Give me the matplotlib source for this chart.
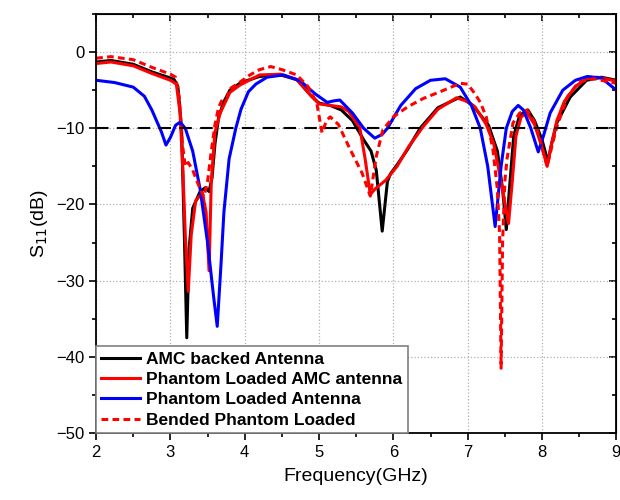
import matplotlib
matplotlib.use('Agg')
import matplotlib.pyplot as plt
from matplotlib.ticker import MultipleLocator

plt.rcParams['font.family'] = ['Liberation Sans', 'DejaVu Sans']

# === datos ===
f_amc = [2.0, 2.2, 2.5, 2.75, 3.0, 3.05, 3.1, 3.15, 3.19, 3.22, 3.25, 3.3, 3.4, 3.47,
         3.52, 3.56, 3.6, 3.65, 3.72, 3.8, 3.95, 4.2, 4.48, 4.7, 4.9, 5.0, 5.15, 5.3,
         5.45, 5.6, 5.7, 5.77, 5.85, 5.92, 5.96, 6.05, 6.19, 6.36, 6.6, 6.9, 7.07,
         7.28, 7.4, 7.47, 7.52, 7.57, 7.62, 7.7, 7.81, 7.9, 8.0, 8.08, 8.13, 8.2,
         8.38, 8.6, 8.8, 9.0]
s_amc = [-1.3, -1.1, -1.6, -2.6, -3.4, -3.6, -4.5, -10, -25, -37.5, -26, -20.5, -18.3, -17.8,
         -18.3, -16.5, -12, -8.5, -6.5, -5.0, -4.0, -3.2, -3.0, -3.6, -5.8, -6.7, -7.0, -7.6,
         -9.0, -11.5, -13, -15.5, -23.5, -17, -16, -14.8, -12.8, -10, -7.3, -5.9, -7.0,
         -9.6, -13, -18, -23.3, -17, -11, -8.3, -7.6, -9.0, -11.5, -14.4, -12, -9.3,
         -5.9, -3.7, -3.3, -3.7]

f_pl_amc = [2.0, 2.2, 2.5, 2.75, 3.0, 3.08, 3.13, 3.17, 3.2, 3.24, 3.28, 3.34, 3.43,
            3.48, 3.52, 3.55, 3.6, 3.67, 3.8, 3.94, 4.2, 4.48, 4.7, 4.9, 5.0, 5.15, 5.3,
            5.4, 5.55, 5.62, 5.69, 5.75, 5.9, 6.05, 6.2, 6.4, 6.6, 6.85, 7.0, 7.1,
            7.25, 7.35, 7.45, 7.55, 7.6, 7.65, 7.72, 7.8, 7.9, 8.0, 8.07, 8.12, 8.2,
            8.3, 8.45, 8.6, 8.75, 9.0]
s_pl_amc = [-1.5, -1.3, -1.8, -2.8, -3.7, -4.2, -8, -16, -24, -31.4, -24, -19.5, -18.5,
            -21, -28.7, -17, -10.5, -8.0, -5.3, -4.3, -3.0, -2.9, -3.6, -5.8, -6.8, -7.0, -7.2,
            -7.8, -10, -14, -18.7, -18, -16.8, -15, -12.5, -9.8, -7.5, -6.0, -6.5, -7.2,
            -9.5, -12, -17, -22.5, -17, -11, -8.5, -8.0, -9.5, -12.5, -15, -12.5, -9.0,
            -6.5, -4.5, -3.5, -3.3, -3.8]

f_pl_ant = [2.0, 2.25, 2.5, 2.65, 2.75, 2.88, 2.94, 3.0, 3.07, 3.13, 3.2, 3.3, 3.4, 3.5,
            3.58, 3.63, 3.68, 3.72, 3.79, 3.88, 3.95, 4.05, 4.15, 4.3, 4.52, 4.75, 4.95,
            5.11, 5.2, 5.28, 5.45, 5.6, 5.75, 5.85, 5.92, 6.1, 6.3, 6.5, 6.7, 6.9, 7.05,
            7.17, 7.27, 7.37, 7.45, 7.52, 7.6, 7.68, 7.75, 7.85, 7.95, 8.02, 8.11, 8.28,
            8.45, 8.61, 8.8, 9.0]
s_pl_ant = [-3.7, -4.0, -4.6, -5.8, -7.6, -10.5, -12.2, -11.2, -9.6, -9.2, -10, -13, -18, -25,
            -32, -36, -28, -21, -14, -10, -7.5, -5.2, -4.2, -3.3, -3.0, -3.8, -5.5,
            -6.6, -6.4, -6.3, -8.0, -10, -11.3, -10.8, -10, -7.0, -4.8, -3.7, -3.5, -4.6, -7.0,
            -10, -15, -22.9, -15, -10, -7.8, -7.0, -7.6, -10, -13.1, -11, -8.0, -5.0,
            -3.7, -3.2, -3.4, -5.0]

f_bend = [2.0, 2.2, 2.5, 2.75, 3.0, 3.07, 3.12, 3.16, 3.2, 3.24, 3.3, 3.38, 3.45, 3.5,
          3.55, 3.6, 3.65, 3.7, 3.76, 3.8, 3.9, 4.07, 4.2, 4.35, 4.5, 4.7, 4.85, 4.97,
          5.04, 5.1, 5.15, 5.26, 5.42, 5.58, 5.69, 5.77, 5.86, 6.0, 6.19, 6.4, 6.63,
          6.9, 7.0, 7.1, 7.17, 7.25, 7.34, 7.4, 7.43, 7.45, 7.47, 7.5, 7.53, 7.61,
          7.7, 7.8, 7.92, 8.0, 8.07, 8.13, 8.2, 8.34, 8.5, 8.7, 9.0]
s_bend = [-0.8, -0.6, -1.0, -2.0, -2.9, -3.3, -6, -12, -15, -14.5, -15.5, -17.5, -19, -17,
          -13, -9.5, -7.2, -6.2, -6.0, -4.8, -4.2, -3.0, -2.3, -1.9, -2.3, -3.0, -4.5, -6.7,
          -10.6, -9.0, -8.5, -9.5, -12.8, -15.9, -18.9, -13.7, -10.2, -8.5, -7.2, -6.1, -5.2,
          -4.1, -4.2, -5.5, -6.6, -8.5, -12.8, -18, -24, -41.5, -25, -17, -14, -9.3,
          -8.0, -7.6, -9.5, -12.5, -15, -12.5, -9.8, -5.9, -3.9, -3.5, -4.1]

labels = ['AMC backed Antenna', 'Phantom Loaded AMC antenna',
          'Phantom Loaded Antenna', 'Bended Phantom Loaded']

# === grafica ===
fig = plt.figure(figsize=(6.2, 5.0), dpi=100)
ax = fig.add_axes([0.155, 0.134, 0.839, 0.838])

ax.plot(f_amc, s_amc, color='black', lw=2.2, label=labels[0])
ax.plot(f_pl_amc, s_pl_amc, color='#ff0000', lw=2.2, label=labels[1])
ax.plot(f_pl_ant, s_pl_ant, color='#0000ff', lw=2.2, label=labels[2])
ax.plot(f_bend, s_bend, color='#ff0000', lw=2.2, ls=(0, (2.2, 1.4)), label=labels[3])
ax.axhline(-10, color='black', lw=1.5, ls=(0, (6, 4)))

ax.set_xlim(2, 9)
ax.set_ylim(-50, 5)
ax.xaxis.set_major_locator(MultipleLocator(1))
ax.xaxis.set_minor_locator(MultipleLocator(0.5))
ax.yaxis.set_major_locator(MultipleLocator(10))
ax.yaxis.set_minor_locator(MultipleLocator(5))
ax.grid(True, which='major', color='#b0b0b0', ls=':', lw=0.9)

ax.tick_params(which='both', direction='out', labelsize=12, width=1.2)
ax.tick_params(which='major', length=5)
ax.tick_params(which='minor', length=3)
sec_x = ax.secondary_xaxis('top')
sec_x.xaxis.set_major_locator(MultipleLocator(1))
sec_x.xaxis.set_minor_locator(MultipleLocator(0.5))
sec_x.tick_params(which='both', direction='in', labeltop=False, width=1.2)
sec_x.tick_params(which='major', length=5)
sec_x.tick_params(which='minor', length=3)
sec_y = ax.secondary_yaxis('right')
sec_y.yaxis.set_major_locator(MultipleLocator(10))
sec_y.yaxis.set_minor_locator(MultipleLocator(5))
sec_y.tick_params(which='both', direction='in', labelright=False, width=1.2)
sec_y.tick_params(which='major', length=5)
sec_y.tick_params(which='minor', length=3)
for s in ax.spines.values():
    s.set_linewidth(1.3)

ax.set_xlabel('Frequency(GHz)', fontsize=14, labelpad=6)
ax.set_ylabel('S$_{11}$(dB)', fontsize=14)

leg = ax.legend(loc='lower left', borderaxespad=0, fancybox=False,
                edgecolor='#808080', framealpha=1, handlelength=2.2,
                prop={'weight': 'bold', 'size': 12.5}, labelspacing=0.3,
                handletextpad=0.4, borderpad=0.3)
leg.get_frame().set_linewidth(1.2)

fig.savefig('out.png', dpi=100)
